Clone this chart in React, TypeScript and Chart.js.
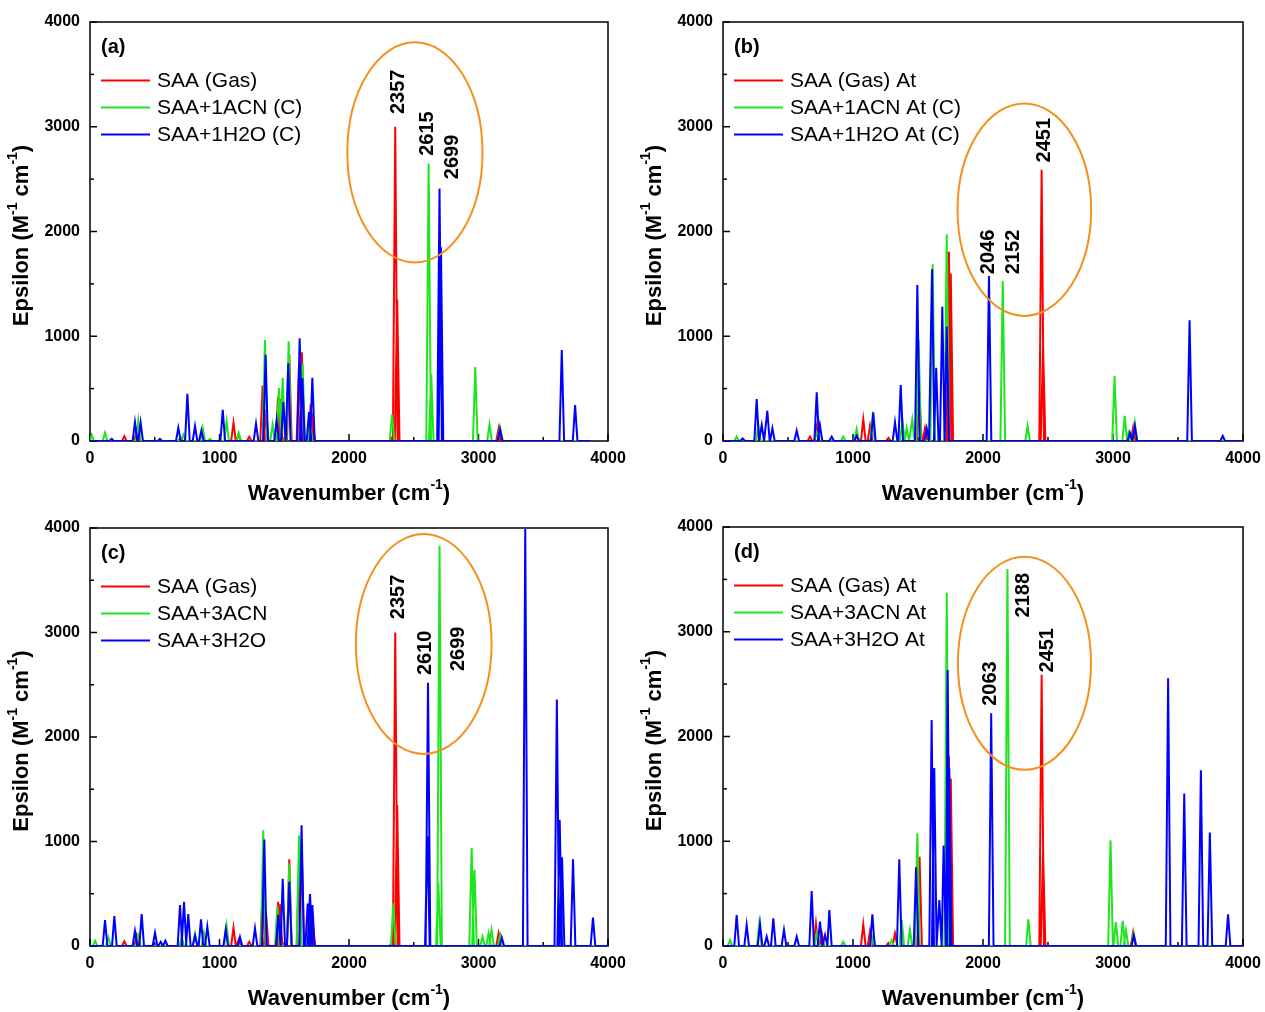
import React, { useEffect, useRef } from "react";
import { Chart, registerables } from "chart.js";

Chart.register(...registerables);

const FONT = "'Liberation Sans', Arial, sans-serif";
const RED = "#ff0000";
const GREEN = "#1ee61e";
const BLUE = "#0000ff";
const ORANGE = "#f5901e";

// ---------- axis ticks ----------
const majorTicks = [0, 1000, 2000, 3000, 4000];
const majorTickLabels = ["0", "1000", "2000", "3000", "4000"];
const minorTicks = [500, 1500, 2500, 3500];

// ---------- panel (a) & (c): SAA (Gas) ----------
const gasWn = [265, 360, 700, 1108, 1148, 1230, 1333, 1360, 1452, 1467, 1539, 1614, 1636, 1704, 1720, 2330, 2357, 2372, 3155, 3170];
const gasEps = [45, 100, 30, 175, 60, 40, 530, 300, 423, 400, 830, 726, 848, 350, 200, 30, 3000, 1350, 120, 100];

// ---------- panel (a): SAA+1ACN (C) ----------
const acn1Wn = [13, 116, 373, 720, 870, 927, 1055, 1148, 1351, 1410, 1459, 1488, 1534, 1642, 1700, 2332, 2615, 2635, 2975, 3085, 3165];
const acn1Eps = [60, 80, 197, 60, 124, 20, 190, 80, 965, 159, 505, 603, 952, 737, 150, 255, 2650, 640, 707, 159, 130];

// ---------- panel (a): SAA+1H2O (C) ----------
const h2o1Wn = [167, 347, 391, 540, 682, 752, 811, 860, 1025, 1282, 1356, 1441, 1493, 1531, 1619, 1640, 1691, 1717, 2699, 2710, 3166, 3643, 3746];
const h2o1Eps = [20, 180, 175, 20, 127, 450, 143, 100, 298, 165, 822, 197, 371, 743, 981, 600, 276, 603, 2410, 1850, 111, 869, 344];

// ---------- panel (b): SAA (Gas) At ----------
const gasAtWnB = [669, 721, 1079, 1131, 1272, 1510, 1554, 1738, 1752, 2451, 2462, 3155];
const gasAtEpsB = [41, 137, 207, 143, 30, 471, 121, 1807, 1600, 2590, 900, 130];

// ---------- panel (b): SAA+1ACN At (C) ----------
const acn1AtWn = [105, 272, 721, 925, 1028, 1149, 1380, 1413, 1456, 1505, 1613, 1721, 2152, 2343, 3012, 3090, 3120, 3168];
const acn1AtEps = [41, 150, 80, 41, 114, 213, 200, 121, 207, 966, 1687, 1973, 1527, 143, 621, 240, 80, 170];

// ---------- panel (b): SAA+1H2O At (C) ----------
const h2o1AtWn = [151, 259, 298, 341, 380, 567, 721, 746, 836, 1028, 1156, 1323, 1367, 1495, 1567, 1608, 1640, 1687, 1721, 2046, 3130, 3168, 3589, 3844];
const h2o1AtEps = [25, 401, 153, 289, 121, 99, 465, 150, 41, 50, 274, 178, 535, 1489, 121, 1639, 700, 1282, 1091, 1575, 80, 143, 1153, 48];

// ---------- panel (c): SAA+3ACN ----------
const acn3Wn = [39, 142, 373, 708, 811, 880, 1055, 1338, 1447, 1539, 1614, 1699, 2342, 2690, 2699, 2947, 2969, 3031, 3078, 3100, 3166];
const acn3Eps = [51, 83, 100, 86, 117, 127, 194, 1107, 382, 789, 1060, 127, 409, 600, 3830, 937, 729, 90, 121, 153, 100];

// ---------- panel (c): SAA+3H2O ----------
const h2o3Wn = [116, 188, 347, 399, 502, 546, 582, 695, 726, 759, 811, 857, 906, 1048, 1158, 1274, 1346, 1454, 1488, 1539, 1634, 1681, 1699, 1717, 2605, 2610, 3180, 3361, 3605, 3627, 3645, 3730, 3884];
const h2o3Eps = [248, 286, 143, 305, 127, 40, 50, 391, 423, 305, 100, 255, 185, 159, 86, 169, 1018, 300, 643, 614, 1155, 407, 496, 391, 1050, 2519, 80, 3990, 2359, 1208, 850, 831, 272];

// ---------- panel (d): SAA (Gas) At ----------
const gasAtWnD = [715, 760, 1079, 1131, 1272, 1323, 1512, 1738, 1752, 2451, 2462, 3155];
const gasAtEpsD = [216, 120, 207, 143, 30, 120, 852, 1810, 1600, 2590, 900, 130];

// ---------- panel (d): SAA+3ACN At ----------
const acn3AtWn = [54, 279, 721, 925, 1156, 1297, 1375, 1438, 1495, 1721, 2188, 2349, 2981, 3022, 3075, 3100, 3160];
const acn3AtEps = [57, 216, 120, 40, 100, 57, 248, 153, 1076, 3373, 3599, 255, 1010, 229, 239, 150, 120];

// ---------- panel (d): SAA+3H2O At ----------
const h2o3AtWn = [105, 182, 285, 336, 387, 469, 567, 682, 746, 785, 818, 1149, 1356, 1485, 1605, 1625, 1664, 1697, 1728, 1740, 2063, 3160, 3424, 3548, 3676, 3745, 3885];
const h2o3AtEps = [296, 200, 210, 89, 264, 153, 89, 525, 232, 105, 344, 302, 828, 751, 2158, 1700, 439, 960, 2635, 1700, 2223, 100, 2557, 1455, 1678, 1083, 303];

// ---------- peak labels (text, wavenumber, epsilon at text start) ----------
const notesA = [
  { text: "2357", x: 2382, y: 3121 },
  { text: "2615", x: 2608, y: 2723 },
  { text: "2699", x: 2796, y: 2500 },
];
const notesB = [
  { text: "2046", x: 2042, y: 1592 },
  { text: "2152", x: 2236, y: 1592 },
  { text: "2451", x: 2473, y: 2659 },
];
const notesC = [
  { text: "2357", x: 2382, y: 3127 },
  { text: "2610", x: 2592, y: 2593 },
  { text: "2699", x: 2843, y: 2631 },
];
const notesD = [
  { text: "2063", x: 2056, y: 2293 },
  { text: "2188", x: 2312, y: 3137 },
  { text: "2451", x: 2498, y: 2611 },
];

type Series = { label: string; color: string; wn: number[]; eps: number[] };
type Note = { text: string; x: number; y: number };
type Panel = {
  tag: string;
  left: number;
  top: number;
  padTop: number;
  padRight: number;
  xAxisH: number;
  baseEnd: number;
  series: Series[];
  notes: Note[];
  ellipse: { cx: number; cy: number; rx: number; ry: number };
};

const CW = 632;
const CH = 506;
const HW = 18; // half base width of each drawn peak, cm-1

const PANELS: Panel[] = [
  {
    tag: "(a)", left: 0, top: 0, padTop: 22, padRight: 24, xAxisH: 65, baseEnd: 3870,
    series: [
      { label: "SAA (Gas)", color: RED, wn: gasWn, eps: gasEps },
      { label: "SAA+1ACN (C)", color: GREEN, wn: acn1Wn, eps: acn1Eps },
      { label: "SAA+1H2O (C)", color: BLUE, wn: h2o1Wn, eps: h2o1Eps },
    ],
    notes: notesA,
    ellipse: { cx: 2509, cy: 2755, rx: 522, ry: 1051 },
  },
  {
    tag: "(b)", left: 633, top: 0, padTop: 22, padRight: 22, xAxisH: 65, baseEnd: 3990,
    series: [
      { label: "SAA (Gas) At", color: RED, wn: gasAtWnB, eps: gasAtEpsB },
      { label: "SAA+1ACN At (C)", color: GREEN, wn: acn1AtWn, eps: acn1AtEps },
      { label: "SAA+1H2O At (C)", color: BLUE, wn: h2o1AtWn, eps: h2o1AtEps },
    ],
    notes: notesB,
    ellipse: { cx: 2318, cy: 2208, rx: 514, ry: 1014 },
  },
  {
    tag: "(c)", left: 0, top: 506, padTop: 22, padRight: 24, xAxisH: 66, baseEnd: 4000,
    series: [
      { label: "SAA (Gas)", color: RED, wn: gasWn, eps: gasEps },
      { label: "SAA+3ACN", color: GREEN, wn: acn3Wn, eps: acn3Eps },
      { label: "SAA+3H2O", color: BLUE, wn: h2o3Wn, eps: h2o3Eps },
    ],
    notes: notesC,
    ellipse: { cx: 2577, cy: 2890, rx: 524, ry: 1052 },
  },
  {
    tag: "(d)", left: 633, top: 506, padTop: 21, padRight: 22, xAxisH: 66, baseEnd: 4000,
    series: [
      { label: "SAA (Gas) At", color: RED, wn: gasAtWnD, eps: gasAtEpsD },
      { label: "SAA+3ACN At", color: GREEN, wn: acn3AtWn, eps: acn3AtEps },
      { label: "SAA+3H2O At", color: BLUE, wn: h2o3AtWn, eps: h2o3AtEps },
    ],
    notes: notesD,
    ellipse: { cx: 2319, cy: 2699, rx: 512, ry: 1017 },
  },
];

function spikes(wn: number[], eps: number[], end: number) {
  const idx = wn.map((_, i) => i).sort((a, b) => wn[a] - wn[b]);
  const pts: { x: number; y: number }[] = [{ x: 0, y: 0 }];
  for (const i of idx) {
    pts.push({ x: Math.max(0, wn[i] - HW), y: 0 });
    pts.push({ x: wn[i], y: eps[i] });
    pts.push({ x: wn[i] + HW, y: 0 });
  }
  pts.push({ x: end, y: 0 });
  return pts;
}

function drawSupText(
  ctx: CanvasRenderingContext2D,
  parts: { t: string; sup?: boolean }[],
  cx: number,
  cy: number,
  size: number
) {
  const big = `bold ${size}px ${FONT}`;
  const small = `bold ${Math.round(size * 0.62)}px ${FONT}`;
  let total = 0;
  const widths = parts.map((p) => {
    ctx.font = p.sup ? small : big;
    const w = ctx.measureText(p.t).width;
    total += w;
    return w;
  });
  let x = cx - total / 2;
  ctx.textBaseline = "middle";
  ctx.textAlign = "left";
  parts.forEach((p, i) => {
    ctx.font = p.sup ? small : big;
    ctx.fillText(p.t, x, p.sup ? cy - size * 0.38 : cy);
    x += widths[i];
  });
}

function decor(p: Panel) {
  return {
    id: "decor" + p.tag,
    beforeDatasetsDraw(chart: any) {
      const { ctx, chartArea } = chart;
      const { left, top, right, bottom } = chartArea;
      const xs = chart.scales.x;
      const ys = chart.scales.y;
      ctx.save();
      ctx.strokeStyle = "#000";
      ctx.lineWidth = 1.5;
      ctx.strokeRect(left, top, right - left, bottom - top);
      const tick = (v: number, len: number) => {
        const px = xs.getPixelForValue(v);
        ctx.beginPath();
        ctx.moveTo(px, bottom);
        ctx.lineTo(px, bottom - len);
        ctx.stroke();
        const py = ys.getPixelForValue(v);
        ctx.beginPath();
        ctx.moveTo(left, py);
        ctx.lineTo(left + len, py);
        ctx.stroke();
      };
      majorTicks.forEach((v) => tick(v, 7));
      minorTicks.forEach((v) => tick(v, 4));
      ctx.restore();
    },
    afterDatasetsDraw(chart: any) {
      const { ctx, chartArea } = chart;
      const { left, top, right, bottom } = chartArea;
      const xs = chart.scales.x;
      const ys = chart.scales.y;
      ctx.save();
      // ellipse
      const e = p.ellipse;
      const ecx = xs.getPixelForValue(e.cx);
      const ecy = ys.getPixelForValue(e.cy);
      const erx = Math.abs(xs.getPixelForValue(e.cx + e.rx) - ecx);
      const ery = Math.abs(ys.getPixelForValue(e.cy + e.ry) - ecy);
      ctx.strokeStyle = ORANGE;
      ctx.lineWidth = 2;
      ctx.beginPath();
      ctx.ellipse(ecx, ecy, erx, ery, 0, 0, Math.PI * 2);
      ctx.stroke();
      // peak labels
      ctx.fillStyle = "#000";
      ctx.font = `bold 20px ${FONT}`;
      for (const n of p.notes) {
        const nx = xs.getPixelForValue(n.x);
        const ny = ys.getPixelForValue(n.y);
        ctx.save();
        ctx.translate(nx, ny);
        ctx.rotate(-Math.PI / 2);
        ctx.textAlign = "left";
        ctx.textBaseline = "middle";
        ctx.fillText(n.text, 0, 0);
        ctx.restore();
      }
      // panel tag
      ctx.font = `bold 20px ${FONT}`;
      ctx.textAlign = "left";
      ctx.textBaseline = "middle";
      ctx.fillText(p.tag, left + 11, top + 25);
      // legend
      ctx.font = `21px ${FONT}`;
      p.series.forEach((s, i) => {
        const y = top + 58.5 + i * 27;
        ctx.strokeStyle = s.color;
        ctx.lineWidth = 2;
        ctx.beginPath();
        ctx.moveTo(left + 11, y);
        ctx.lineTo(left + 60, y);
        ctx.stroke();
        ctx.fillStyle = "#000";
        ctx.fillText(s.label, left + 67, y + 1);
      });
      // axis titles
      ctx.fillStyle = "#000";
      drawSupText(
        ctx,
        [{ t: "Wavenumber (cm" }, { t: "-1", sup: true }, { t: ")" }],
        (left + right) / 2,
        bottom + 53,
        22
      );
      ctx.save();
      ctx.translate(left - 68, (top + bottom) / 2 + 4);
      ctx.rotate(-Math.PI / 2);
      drawSupText(
        ctx,
        [{ t: "Epsilon (M" }, { t: "-1", sup: true }, { t: " cm" }, { t: "-1", sup: true }, { t: ")" }],
        0,
        0,
        22
      );
      ctx.restore();
      ctx.restore();
    },
  };
}

function PanelChart({ p }: { p: Panel }) {
  const ref = useRef<HTMLCanvasElement | null>(null);
  useEffect(() => {
    if (!ref.current) return;
    const tickFont = { family: FONT, weight: "bold" as const, size: 16 };
    const labelFor = (v: any) => {
      const i = majorTicks.indexOf(Number(v));
      return i >= 0 ? majorTickLabels[i] : "";
    };
    const n = p.series.length;
    const chart = new Chart(ref.current, {
      type: "line",
      data: {
        datasets: p.series.map((s, i) => ({
          label: s.label,
          data: spikes(s.wn, s.eps, p.baseEnd),
          borderColor: s.color,
          backgroundColor: s.color,
          borderWidth: 2,
          pointRadius: 0,
          fill: false,
          tension: 0,
          order: n - i,
        })),
      },
      options: {
        responsive: false,
        animation: false,
        devicePixelRatio: 1,
        events: [],
        layout: { padding: { top: p.padTop, right: p.padRight, left: 0, bottom: 0 } },
        plugins: { legend: { display: false }, tooltip: { enabled: false } },
        scales: {
          x: {
            type: "linear",
            min: 0,
            max: 4000,
            afterBuildTicks: (s: any) => {
              s.ticks = majorTicks.map((v) => ({ value: v }));
            },
            ticks: { color: "#000", font: tickFont, padding: 8, maxRotation: 0, autoSkip: false, callback: labelFor },
            grid: { display: false, drawTicks: false, tickLength: 0 },
            border: { display: false },
            afterFit: (s: any) => {
              s.height = p.xAxisH;
              s.paddingLeft = 0;
              s.paddingRight = 0;
            },
          },
          y: {
            type: "linear",
            min: 0,
            max: 4000,
            afterBuildTicks: (s: any) => {
              s.ticks = majorTicks.map((v) => ({ value: v }));
            },
            ticks: { color: "#000", font: tickFont, padding: 10, autoSkip: false, callback: labelFor },
            grid: { display: false, drawTicks: false, tickLength: 0 },
            border: { display: false },
            afterFit: (s: any) => {
              s.width = 90;
              s.paddingTop = 0;
              s.paddingBottom = 0;
            },
          },
        },
      } as any,
      plugins: [decor(p)],
    });
    return () => chart.destroy();
  }, [p]);
  return (
    <canvas
      ref={ref}
      width={CW}
      height={CH}
      style={{ position: "absolute", left: p.left, top: p.top, width: CW, height: CH }}
    />
  );
}

export default function App() {
  useEffect(() => {
    Chart.defaults.font.family = FONT;
  }, []);
  return (
    <div style={{ position: "absolute", left: 0, top: 0, width: 1265, height: 1012, background: "#fff" }}>
      {PANELS.map((p) => (
        <PanelChart key={p.tag} p={p} />
      ))}
    </div>
  );
}
